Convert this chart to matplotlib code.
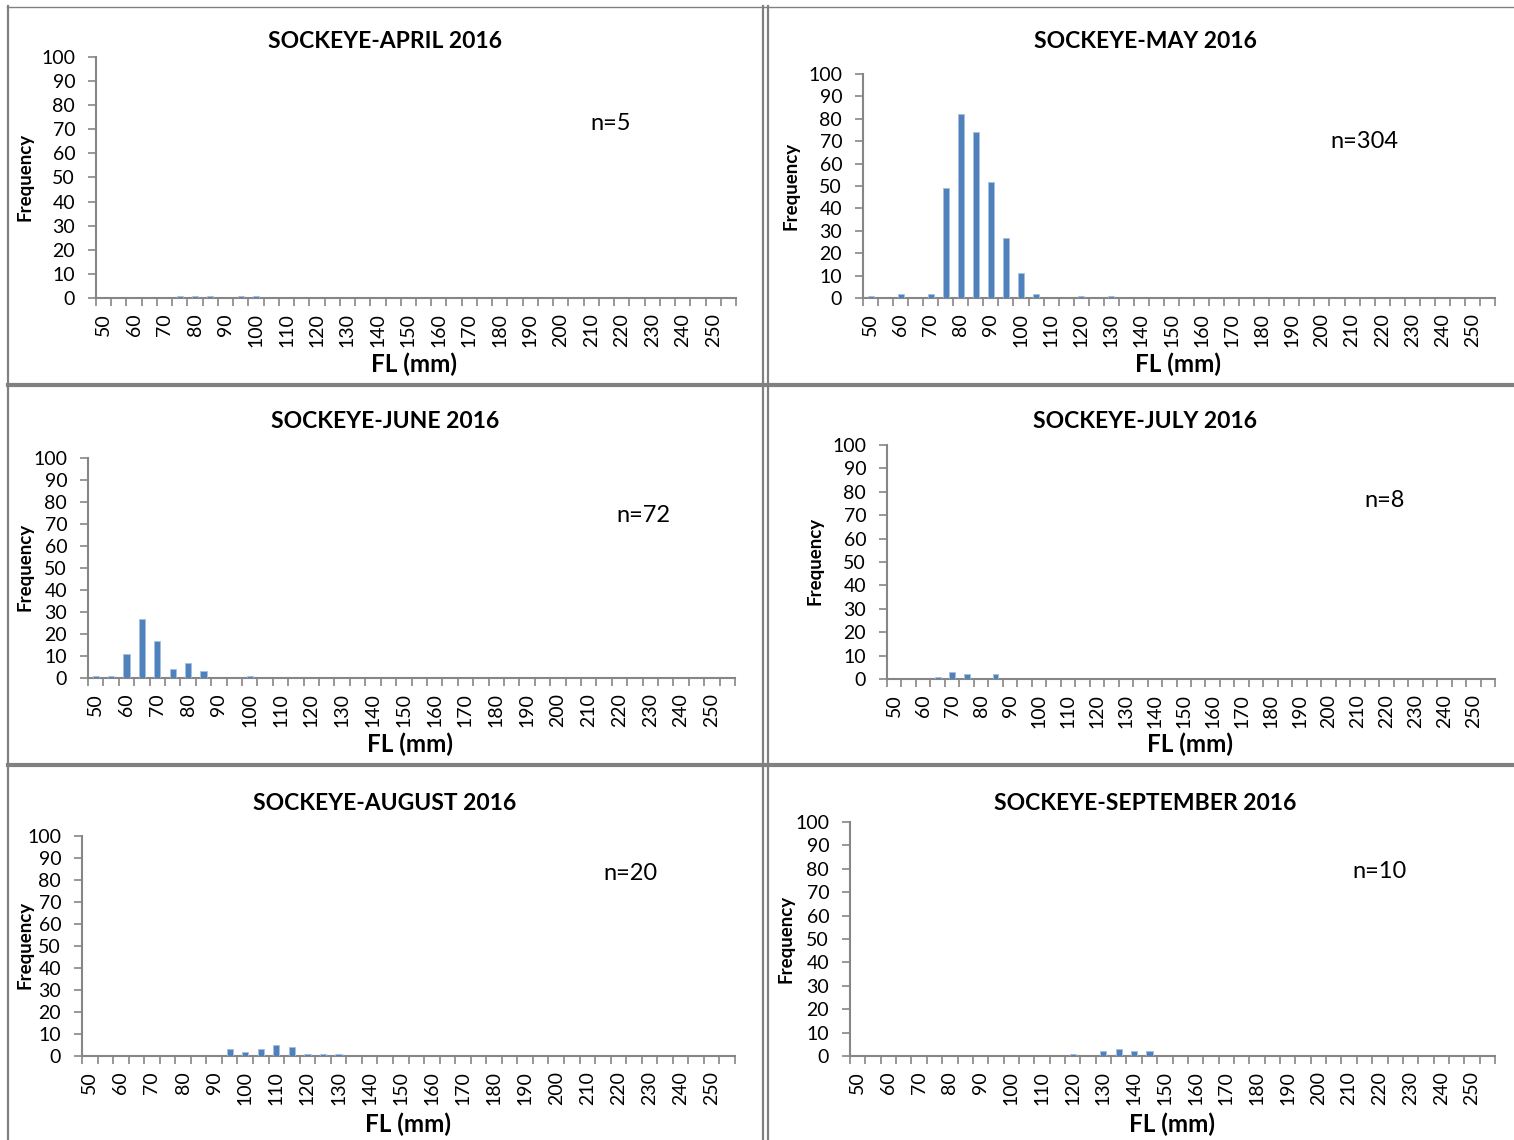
import matplotlib
matplotlib.use("Agg")
import matplotlib.pyplot as plt
from matplotlib.lines import Line2D

plt.rcParams['font.family'] = ['Lato', 'DejaVu Sans']

# Length classes (FL, mm)
fl_bins = list(range(50, 260, 5))  # 50..255
tick_labels = [str(v) if v % 10 == 0 else '' for v in fl_bins]

titles = ["SOCKEYE-APRIL 2016", "SOCKEYE-MAY 2016", "SOCKEYE-JUNE 2016",
          "SOCKEYE-JULY 2016", "SOCKEYE-AUGUST 2016", "SOCKEYE-SEPTEMBER 2016"]
n_labels = ["n=5", "n=304", "n=72", "n=8", "n=20", "n=10"]

april = {75: 1, 80: 1, 85: 1, 95: 1, 100: 1}
may = {50: 1, 60: 2, 70: 2, 75: 49, 80: 82, 85: 74, 90: 52, 95: 27,
       100: 11, 105: 2, 120: 1, 130: 1}
june = {50: 1, 55: 1, 60: 11, 65: 27, 70: 17, 75: 4, 80: 7, 85: 3, 100: 1}
july = {65: 1, 70: 3, 75: 2, 85: 2}
august = {95: 3, 100: 2, 105: 3, 110: 5, 115: 4, 120: 1, 125: 1, 130: 1}
september = {120: 1, 130: 2, 135: 3, 140: 2, 145: 2}
series = [april, may, june, july, august, september]

W, H = 1514, 1140
fig = plt.figure(figsize=(W / 100, H / 100), dpi=100)

# panel layout in pixels: (x0, x1, ytop, ybot, title_xy, n_xy, ylab_xy, xlab_xy)
layout = [
    (96, 736, 57, 298, (385, 42), (611, 123), (25, 177), (414, 364)),
    (863, 1495, 74, 298, (1145, 42), (1364, 141), (791, 186), (1178, 364)),
    (88, 735, 458, 678, (385, 422), (643, 515), (25, 567), (410, 744)),
    (887, 1495, 445, 679, (1145, 422), (1385, 501), (815, 561), (1190, 744)),
    (82, 735, 836, 1056, (385, 803), (630, 873), (25, 945), (408, 1124)),
    (850, 1495, 822, 1056, (1145, 803), (1380, 871), (786, 939), (1172, 1124)),
]

gray = '#868686'
bar_color = '#4F81BD'

def fx(x):
    return x / W

def fy(y):
    return 1 - y / H

for data, title, nl, lay in zip(series, titles, n_labels, layout):
    x0, x1, yt, yb, tpos, npos, ylpos, xlpos = lay
    ax = fig.add_axes([fx(x0), fy(yb), (x1 - x0) / W, (yb - yt) / H])
    idx = list(range(len(fl_bins)))
    vals = [data.get(b, 0) for b in fl_bins]
    ax.bar(idx, vals, width=0.4, color=bar_color, edgecolor='#A7C0DE', linewidth=0.6, zorder=3)
    ax.set_xlim(-0.5, len(fl_bins) - 0.5)
    ax.set_ylim(0, 100)
    ax.set_yticks(range(0, 101, 10))
    ax.tick_params(axis='y', labelsize=14, length=6, width=1.2, color=gray, pad=9)
    # boundaries as major ticks, labels as minor
    ax.set_xticks([i - 0.5 for i in range(len(fl_bins) + 1)])
    ax.set_xticklabels([])
    ax.set_xticks(idx, minor=True)
    ax.set_xticklabels(tick_labels, minor=True, rotation=90)
    ax.tick_params(axis='x', which='major', length=6, width=1.2, color=gray)
    ax.tick_params(axis='x', which='minor', length=0, labelsize=14, pad=11)
    for s in ['top', 'right']:
        ax.spines[s].set_visible(False)
    for s in ['left', 'bottom']:
        ax.spines[s].set_color(gray)
        ax.spines[s].set_linewidth(1.5)
    ax.patch.set_alpha(0)

    fig.text(fx(tpos[0]), fy(tpos[1]), title, ha='center', va='center',
             fontsize=16.5, fontweight='bold')
    fig.text(fx(npos[0]), fy(npos[1]), nl, ha='center', va='center', fontsize=17)
    fig.text(fx(ylpos[0]), fy(ylpos[1]), "Frequency", ha='center', va='center',
             rotation=90, fontsize=13.5, fontweight='bold')
    fig.text(fx(xlpos[0]), fy(xlpos[1]), "FL (mm)", ha='center', va='center',
             fontsize=17.5, fontweight='bold')

# panel frame lines
lc = '#808080'
def hline(y, xa, xb, lw):
    fig.add_artist(Line2D([fx(xa), fx(xb)], [fy(y), fy(y)], color=lc, linewidth=lw))

def vline(x, ya, yb, lw):
    fig.add_artist(Line2D([fx(x), fx(x)], [fy(ya), fy(yb)], color=lc, linewidth=lw))

hline(6.5, 7, W, 1.0)
vline(8, 6, H, 1.6)
vline(763.5, 6, H, 1.6)
vline(767.5, 6, H, 1.6)
hline(385, 8, W, 3.0)
hline(765, 8, W, 3.0)

fig.savefig('out.png', dpi=100)
